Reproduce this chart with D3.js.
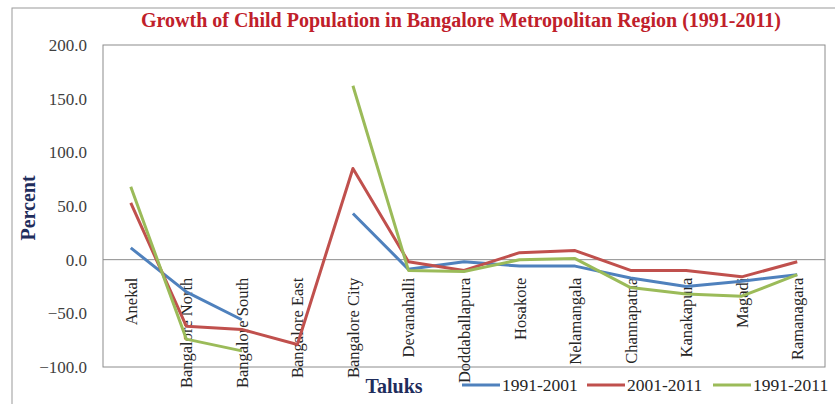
<!DOCTYPE html>
<html>
<head>
<meta charset="utf-8">
<script src="https://cdn.jsdelivr.net/npm/d3@7"></script>
<style>
  body { margin: 0; background: #fff; }
  text { font-family: "Liberation Serif", "Times New Roman", serif; }
</style>
</head>
<body>
<svg id="chart"></svg>
<script>
// Data
const taluks = ['Anekal', 'Bangalore North', 'Bangalore South', 'Bangalore East', 'Bangalore City',
  'Devanahalli', 'Doddaballapura', 'Hosakote', 'Nelamangala', 'Channapatna', 'Kanakapura', 'Magadi', 'Ramanagara'];
const growth9101 = [11, -30, -56, null, 43, -9, -2, -6, -6, -17, -25, -20, -14];
const growth0111 = [53, -62, -65, -79, 85, -2, -10, 6.5, 8.5, -10, -10, -16, -2];
const growth9111 = [68, -74, -85, null, 162, -10, -11, 0, 1, -26, -32, -34, -14];
const yTicks = [-100, -50, 0, 50, 100, 150, 200];

const seriesNames = ['1991-2001', '2001-2011', '1991-2011'];
const seriesValues = [growth9101, growth0111, growth9111];
const colors = ['#4F81BD', '#C0504D', '#9BBB59'];

const width = 835, height = 404;
const margin = {top: 45, right: 10, bottom: 37, left: 103};

const svg = d3.select('#chart')
  .attr('width', width)
  .attr('height', height);

// outer frame of the chart
svg.append('rect')
  .attr('x', 12).attr('y', 8)
  .attr('width', 830).attr('height', 410)
  .attr('fill', 'none')
  .attr('stroke', '#9a9a9a');

const x = d3.scalePoint()
  .domain(taluks)
  .range([margin.left, width - margin.right])
  .padding(0.5);

const y = d3.scaleLinear()
  .domain([-100, 200])
  .range([height - margin.bottom, margin.top]);

// plot area border
svg.append('rect')
  .attr('x', margin.left).attr('y', margin.top)
  .attr('width', width - margin.right - margin.left)
  .attr('height', height - margin.bottom - margin.top)
  .attr('fill', 'none')
  .attr('stroke', '#8c8c8c');

// zero line
svg.append('line')
  .attr('x1', margin.left).attr('x2', width - margin.right)
  .attr('y1', y(0)).attr('y2', y(0))
  .attr('stroke', '#8c8c8c');

// y axis
const yAxis = d3.axisLeft(y)
  .tickValues(yTicks)
  .tickSize(0)
  .tickPadding(16)
  .tickFormat(d3.format('.1f'));

svg.append('g')
  .attr('transform', `translate(${margin.left},0)`)
  .call(yAxis)
  .call(g => g.select('.domain').remove())
  .selectAll('text')
  .attr('font-size', 17)
  .attr('fill', '#404040');

// x axis labels, hanging below the zero line
svg.append('g')
  .selectAll('text')
  .data(taluks)
  .join('text')
  .attr('transform', d => `translate(${x(d) + 6},${y(0) + 18}) rotate(-90)`)
  .attr('text-anchor', 'end')
  .attr('font-size', 16.5)
  .attr('fill', '#262626')
  .text(d => d);

// lines
const line = d3.line()
  .defined(d => d.v !== null)
  .x(d => x(d.t))
  .y(d => y(d.v));

seriesValues.forEach((vals, i) => {
  svg.append('path')
    .datum(vals.map((v, j) => ({t: taluks[j], v: v})))
    .attr('fill', 'none')
    .attr('stroke', colors[i])
    .attr('stroke-width', 3)
    .attr('stroke-linejoin', 'round')
    .attr('d', line);
});

// title
svg.append('text')
  .attr('x', 461).attr('y', 27)
  .attr('text-anchor', 'middle')
  .attr('font-size', 20)
  .attr('font-weight', 'bold')
  .attr('fill', '#C0202A')
  .text('Growth of Child Population in Bangalore Metropolitan Region (1991-2011)');

// axis titles
svg.append('text')
  .attr('transform', 'translate(35,208) rotate(-90)')
  .attr('text-anchor', 'middle')
  .attr('font-size', 20)
  .attr('font-weight', 'bold')
  .attr('fill', '#1F2D5C')
  .text('Percent');

svg.append('text')
  .attr('x', 394).attr('y', 393)
  .attr('text-anchor', 'middle')
  .attr('font-size', 20)
  .attr('font-weight', 'bold')
  .attr('fill', '#1F2D5C')
  .text('Taluks');

// legend
const legendX = [462, 587, 713];
const legend = svg.append('g')
  .selectAll('g')
  .data(seriesNames)
  .join('g')
  .attr('transform', (d, i) => `translate(${legendX[i]},385)`);

legend.append('line')
  .attr('x1', 0).attr('x2', 38)
  .attr('stroke', (d, i) => colors[i])
  .attr('stroke-width', 3);

legend.append('text')
  .attr('x', 40).attr('y', 6)
  .attr('font-size', 17.5)
  .attr('fill', '#262626')
  .text(d => d);
</script>
</body>
</html>
